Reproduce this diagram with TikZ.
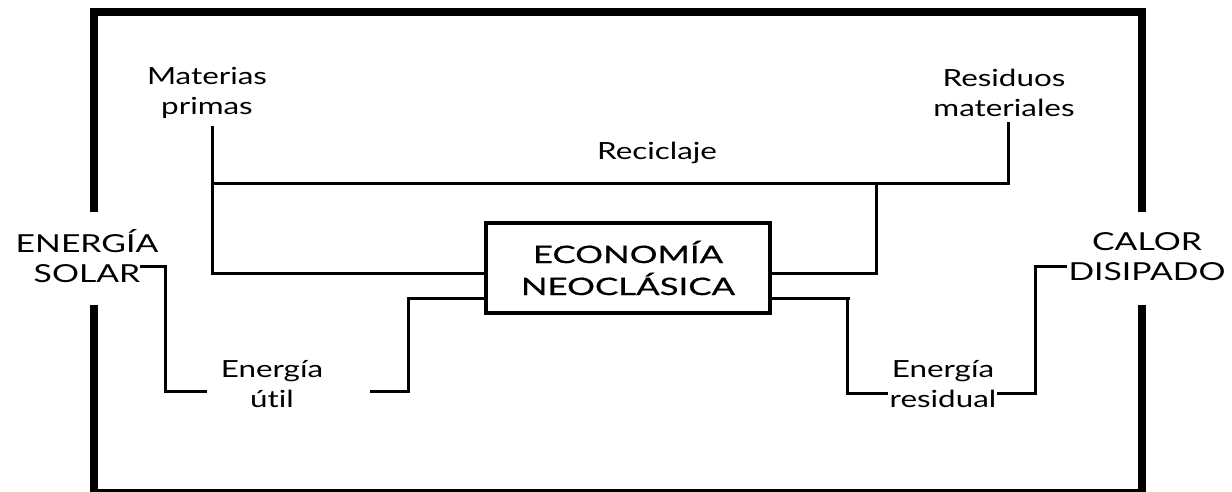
\documentclass[tikz,border=0pt]{standalone}
\usepackage{fontspec}
\setmainfont[FakeStretch=1.33,Ligatures={NoCommon,NoDiscretionary}]{Lato}
\newfontfamily\capsf[FakeStretch=1.36]{Lato}
\newfontfamily\semib[FakeBold=0.6,FakeStretch=1.45]{Lato}
\begin{document}
\begin{tikzpicture}[x=0.5pt,y=-0.5pt,
  lbl/.style={inner sep=0pt, align=center, font=\fontsize{11.8}{15}\selectfont},
  caps/.style={inner sep=0pt, align=center, font=\capsf\fontsize{12.4}{15}\selectfont},
  ecobox/.style={draw, line width=1.8pt, minimum width=142pt, minimum height=45pt, inner sep=0pt, align=center, font=\semib\fontsize{12}{16}\selectfont},
  conn/.style={line width=1.5pt},
  frame/.style={line width=4pt}]
\useasboundingbox (0,0) rectangle (1232,492);
% frame
\draw[frame] (94,212) -- (94,12) -- (1142,12) -- (1142,212);
\draw[frame] (94,305) -- (94,493) -- (1142,493) -- (1142,305);
% nodes
\node[ecobox] (eco) at (628,268) {ECONOMÍA\\NEOCLÁSICA};
\node[lbl] (mp) at (207,93) {Materias\\primas};
\node[lbl] (rm) at (1004,93) {Residuos\\materiales};
\node[lbl] (rec) at (657,153) {Reciclaje};
\node[caps] (es) at (87,256) {ENERGÍA\\SOLAR};
\node[caps] (cd) at (1147,257) {CALOR\\DISIPADO};
\node[lbl] (eu) at (272,384) {Energía\\útil};
\node[lbl] (er) at (943,384) {Energía\\residual};
% coordinates
\coordinate (mpb) at (212,126);
\coordinate (rmb) at (1008,122);
\coordinate (rj) at (876,184);
\coordinate (rd) at (878,273);
\coordinate (ul) at (408,298);
\coordinate (ur) at (850,298);
% materias primas to economy
\draw[conn] (mpb) |- (eco.west |- 0,273);
% recycle line
\draw[conn] (mpb |- rj) -- (rmb |- rj) -- (rmb);
\draw[conn] (rj) -- (rj |- rd);
\draw[conn] (eco.east |- rd) -- (rd);
% energia util
\draw[conn] (eco.west |- ul) -- (ul) -- (408,391) -- (370,391);
\draw[conn] (207,391) -- (165,391) -- (165,266) -- (140,266);
% energia residual
\draw[conn] (eco.east |- ur) -- (ur);
\draw[conn] (847,298) -- (847,393) -- (888,393);
\draw[conn] (997,393) -- (1035,393) -- (1035,266) -- (1067,266);
\end{tikzpicture}
\end{document}
